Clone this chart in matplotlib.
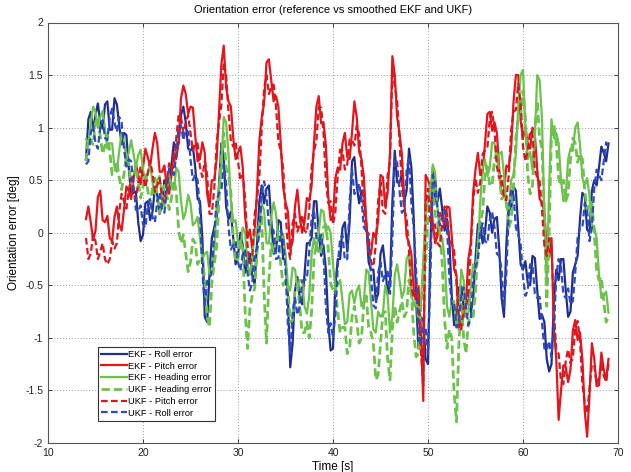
import numpy as np
import matplotlib
matplotlib.use("Agg")
import matplotlib.pyplot as plt

plt.rcParams['font.family'] = ['Liberation Sans', 'DejaVu Sans']

# samples every 0.5 s from 14 s to 69 s, plus the in-between samples (x.25 / x.75 s)
time_s = np.arange(14.0, 69.01, 0.5)
time_mid = time_s[:-1] + 0.25

ekf_roll = [0.70, 1.15, 1.12, 1.05, 1.22, 0.98, 1.28, 1.02, 0.95, 0.62,
            0.38, 0.10, -0.02, 0.30, 0.20, 0.36, 0.27, 0.46, 0.65, 0.80,
            1.12, 1.05, 0.78, 0.62, 0.30, -0.80, -0.38, 0.05, 0.45, 0.72,
            0.13, -0.05, -0.22, -0.12, -0.30, -0.40, -0.10, 0.45, 0.42, 0.13,
            -0.18, 0.10, -0.25, -1.28, -0.55, -0.62, -0.40, -0.10, 0.30, 0.00,
            -0.12, -0.85, -1.10, -0.25, 0.05, -0.18, 0.68, 0.45, 0.40, 0.10,
            -0.35, -0.65, -0.20, -0.33, -0.50, 0.78, 0.48, 0.30, 0.80, 0.13,
            -1.10, -0.83, -1.25, 0.62, 0.30, 0.22, 0.13, -0.60, -0.83, -0.51,
            -0.62, -0.75, -0.25, 0.10, 0.00, 0.19, 0.13, -0.15, -0.80, 0.28,
            0.44, 0.05, -0.35, -0.48, -0.22, -0.55, -0.78, -1.20, -1.25, -0.35,
            -0.25, -0.55, -0.75, -0.30, 0.13, 0.35, 0.00, 0.50, 0.62, 0.76,
            0.85]
ekf_roll_mid = [1.08, 0.98, 1.23, 0.99, 1.25, 0.98, 1.22, 0.84, 0.93, 0.36,
                0.39, -0.08, 0.28, 0.12, 0.42, 0.18, 0.50, 0.42, 0.86, 0.85,
                1.20, 0.80, 0.82, 0.32, -0.05, -0.85, -0.05, 0.12, 0.85, 0.25,
                0.20, -0.30, 0.00, -0.38, -0.20, -0.50, 0.30, 0.28, 0.45, -0.20,
                0.12, -0.25, -0.60, -1.05, -0.42, -0.68, -0.10, -0.05, 0.30, -0.22,
                -0.35, -1.12, -0.50, -0.25, 0.10, 0.10, 0.72, 0.28, 0.40, -0.28,
                -0.35, -0.58, -0.12, -0.58, 0.30, 0.48, 0.55, 0.40, 0.62, -0.65,
                -0.80, -1.20, -0.15, 0.30, 0.42, 0.02, -0.08, -0.88, -0.52, -0.72,
                -0.55, -0.65, 0.08, -0.10, 0.25, 0.00, 0.15, -0.62, -0.10, 0.22,
                0.40, -0.30, -0.27, -0.50, -0.24, -0.82, -0.85, -1.32, -0.65, -0.45,
                -0.25, -0.80, -0.38, -0.22, 0.38, 0.03, 0.40, 0.45, 0.82, 0.68]

ukf_roll = [0.65, 0.95, 0.85, 1.00, 0.90, 1.10, 1.05, 1.10, 0.80, 0.70,
            0.45, 0.20, 0.08, 0.25, 0.15, 0.30, 0.22, 0.40, 0.58, 0.75,
            1.02, 0.98, 0.70, 0.55, 0.20, -0.70, -0.45, 0.00, 0.38, 0.65,
            0.05, -0.12, -0.28, -0.20, -0.38, -0.48, -0.15, 0.38, 0.35, 0.05,
            -0.25, 0.02, -0.35, -1.15, -0.62, -0.70, -0.45, -0.18, 0.22, -0.08,
            -0.20, -0.95, -1.00, -0.32, -0.02, -0.25, 0.60, 0.38, 0.32, 0.02,
            -0.42, -0.72, -0.28, -0.40, -0.58, 0.70, 0.40, 0.22, 0.72, 0.05,
            -1.00, -0.90, -1.15, 0.55, 0.22, 0.15, 0.05, -0.68, -0.90, -0.58,
            -0.70, -0.82, -0.32, 0.02, -0.08, 0.12, 0.05, -0.22, -0.72, 0.20,
            0.36, -0.02, -0.42, -0.55, -0.30, -0.62, -0.85, -1.12, -1.18, -0.42,
            -0.32, -0.62, -0.68, -0.38, 0.05, 0.28, -0.08, 0.42, 0.55, 0.68,
            0.80]
ukf_roll_mid = [0.68, 1.02, 0.80, 1.07, 0.88, 1.18, 0.96, 1.05, 0.63, 0.68,
                0.22, 0.26, 0.05, 0.32, 0.10, 0.38, 0.19, 0.61, 0.55, 1.00,
                0.88, 0.96, 0.50, 0.50, -0.37, -0.46, -0.35, 0.31, 0.40, 0.47,
                -0.16, -0.08, -0.36, -0.17, -0.55, -0.20, 0.00, 0.49, 0.08, 0.02,
                -0.24, -0.05, -0.87, -0.77, -0.78, -0.46, -0.44, 0.14, -0.05, -0.02,
                -0.70, -0.86, -0.78, -0.05, -0.26, 0.30, 0.37, 0.47, 0.05, -0.08,
                -0.69, -0.38, -0.46, -0.37, -0.06, 0.67, 0.19, 0.59, 0.27, -0.36,
                -1.07, -0.90, -0.42, 0.50, 0.07, 0.22, -0.43, -0.67, -0.86, -0.52,
                -0.88, -0.45, -0.27, 0.09, -0.10, 0.20, -0.20, -0.35, -0.38, 0.40,
                0.05, -0.10, -0.60, -0.30, -0.58, -0.61, -1.10, -1.03, -0.92, -0.25,
                -0.59, -0.53, -0.65, -0.05, 0.05, 0.22, 0.05, 0.60, 0.50, 0.86]

ekf_pitch = [0.13, 0.10, 0.02, 0.40, 0.10, -0.05, 0.15, 0.08, 0.22, 0.40,
             0.50, 0.55, 0.62, 0.72, 0.80, 0.85, 0.58, 0.44, 0.55, 0.70,
             1.28, 1.32, 1.20, 0.92, 0.70, 0.76, 0.25, 0.50, 1.15, 1.78,
             1.25, 0.90, 0.76, 0.62, -0.05, -0.15, 0.40, 1.10, 1.62, 1.45,
             1.30, 0.85, 0.29, -0.16, 0.25, 0.15, 0.10, 0.30, 0.85, 1.30,
             1.05, 0.35, 0.15, 0.62, 0.85, 0.72, 0.95, 1.10, 0.70, 0.10,
             -0.20, -0.05, 0.55, 0.25, 0.76, 1.50, 0.95, 0.30, -0.10, -0.55,
             -0.51, -1.60, 0.50, 0.10, -0.03, 0.15, 0.25, -0.03, -0.40, -0.85,
             -0.65, -0.10, 0.60, 0.55, 0.85, 1.15, 1.05, 0.60, 0.40, 0.62,
             1.24, 1.50, 0.90, 0.85, 1.00, 0.60, 0.29, -0.15, -0.05, -1.20,
             -1.50, -1.28, -1.30, -0.83, -0.95, -1.70, -1.55, -1.20, -1.45, -1.30,
             -1.20]
ekf_pitch_mid = [0.25, -0.07, 0.34, 0.12, 0.16, -0.08, 0.25, 0.02, 0.44, 0.32,
                 0.66, 0.46, 0.80, 0.63, 0.95, 0.58, 0.64, 0.37, 0.76, 0.86,
                 1.40, 1.13, 1.19, 0.68, 0.86, 0.37, 0.50, 0.70, 1.60, 1.38,
                 1.20, 0.70, 0.82, 0.15, 0.03, -0.01, 0.88, 1.23, 1.65, 1.25,
                 1.20, 0.44, 0.20, -0.08, 0.41, 0.00, 0.33, 0.45, 1.20, 1.04,
                 0.83, 0.12, 0.52, 0.60, 0.95, 0.70, 1.25, 0.77, 0.53, -0.18,
                 0.00, 0.12, 0.53, 0.38, 1.68, 1.10, 0.75, -0.03, -0.20, -0.66,
                 -0.93, 0.55, 0.43, -0.10, 0.19, 0.07, 0.24, -0.35, -0.92, -0.80,
                 -0.25, 0.38, 0.76, 0.57, 1.13, 0.97, 0.95, 0.37, 0.64, 0.80,
                 1.50, 1.07, 1.00, 0.80, 0.93, 0.32, 0.20, -0.23, -0.90, -1.78,
                 -1.26, -1.42, -0.93, -1.02, -1.20, -1.94, -1.05, -1.46, -1.14, -1.40]

ukf_pitch = [-0.05, -0.20, -0.08, -0.18, -0.25, -0.25, -0.15, 0.20, 0.30, 0.40,
             0.40, 0.48, 0.54, 0.56, 0.57, 0.45, 0.34, 0.48, 0.60, 0.90,
             1.10, 1.05, 0.95, 0.85, 0.62, 0.68, 0.18, 0.42, 1.05, 1.62,
             1.15, 0.82, 0.68, 0.55, -0.12, -0.22, 0.32, 1.00, 1.50, 1.38,
             1.20, 0.78, 0.22, -0.25, 0.18, 0.08, 0.02, 0.22, 0.78, 1.20,
             0.95, 0.28, 0.08, 0.55, 0.78, 0.65, 0.88, 1.02, 0.62, 0.02,
             -0.28, -0.12, 0.48, 0.18, 0.68, 1.40, 0.88, 0.22, -0.18, -0.62,
             -0.58, -1.45, 0.42, 0.02, -0.10, 0.08, 0.18, -0.10, -0.48, -0.92,
             -0.72, -0.18, 0.52, 0.48, 0.78, 1.08, 0.98, 0.52, 0.32, 0.55,
             1.15, 1.42, 0.82, 0.78, 0.92, 0.52, 0.22, -0.22, -0.12, -1.12,
             -1.42, -1.22, -1.24, -0.90, -1.02, -1.62, -1.48, -1.26, -1.38, -1.36,
             -1.25]
ukf_pitch_mid = [-0.25, -0.02, -0.25, -0.10, -0.30, -0.08, -0.10, 0.37, 0.23, 0.52,
                 0.32, 0.63, 0.43, 0.68, 0.39, 0.52, 0.29, 0.66, 0.63, 1.12,
                 0.95, 1.12, 0.78, 0.85, 0.53, 0.55, 0.18, 0.85, 1.22, 1.50,
                 0.87, 0.87, 0.50, 0.33, -0.29, 0.17, 0.54, 1.37, 1.32, 1.41,
                 0.87, 0.62, -0.14, 0.09, 0.01, 0.17, 0.00, 0.62, 0.87, 1.19,
                 0.50, 0.30, 0.20, 0.79, 0.60, 0.89, 0.83, 0.94, 0.20, -0.01,
                 -0.32, 0.30, 0.21, 0.55, 1.55, 1.26, 0.43, 0.14, -0.52, -0.48,
                 -1.13, 0.30, 0.10, 0.08, -0.13, 0.25, -0.08, -0.17, -0.82, -0.70,
                 -0.57, 0.29, 0.38, 0.75, 0.81, 1.15, 0.63, 0.54, 0.31, 0.97,
                 1.17, 1.24, 0.68, 0.97, 0.60, 0.49, -0.12, -0.05, -0.74, -1.15,
                 -1.44, -1.11, -1.19, -0.84, -1.44, -1.72, -1.25, -1.44, -1.25, -1.42]

ekf_heading = [0.89, 1.05, 1.15, 1.10, 0.98, 0.85, 0.62, 0.78, 0.88, 0.76,
               0.75, 0.74, 0.60, 0.58, 0.48, 0.50, 0.33, 0.40, 0.44, 0.62,
               0.30, 0.20, 0.28, 0.10, -0.05, -0.20, -0.40, -0.15, 0.40, 1.10,
               0.75, 0.10, -0.10, 0.05, -0.30, -0.25, 0.05, 0.28, -0.10, 0.15,
               0.18, -0.05, -0.20, -0.55, -0.35, -0.45, -0.70, -0.60, -0.05, 0.00,
               0.20, 0.06, -0.30, -0.50, -0.65, -0.85, -0.55, -0.55, -0.70, -0.35,
               -0.65, -0.95, -0.80, -0.50, -0.95, -0.40, -0.45, -0.55, -0.20, -0.70,
               -0.85, -0.25, 0.35, 0.65, 0.25, -0.05, -0.70, -0.65, -0.90, -0.35,
               -0.80, -0.50, -0.35, 0.29, 0.70, 0.62, 0.85, 0.75, 0.55, 0.20,
               0.55, 1.20, 1.55, 0.70, 0.60, 1.50, 1.08, -0.50, 1.08, 0.95,
               0.50, 0.35, 0.80, 1.00, 0.83, 0.45, 0.35, 0.05, -0.40, -0.60,
               -0.76]
ekf_heading_mid = [0.85, 1.20, 1.00, 1.16, 0.80, 0.85, 0.58, 0.95, 0.70, 0.88,
                   0.62, 0.79, 0.47, 0.65, 0.37, 0.54, 0.25, 0.54, 0.41, 0.58,
                   0.13, 0.36, 0.07, 0.15, -0.25, -0.18, -0.40, 0.25, 0.63, 1.05,
                   0.30, 0.12, -0.15, 0.00, -0.40, 0.02, 0.05, 0.21, -0.10, 0.29,
                   -0.06, -0.01, -0.50, -0.33, -0.52, -0.45, -0.77, -0.20, -0.15, 0.22,
                   0.01, 0.00, -0.52, -0.45, -0.87, -0.58, -0.67, -0.50, -0.65, -0.38,
                   -0.92, -0.75, -0.77, -0.60, -0.80, -0.30, -0.62, -0.25, -0.57, -0.65,
                   -0.67, 0.17, 0.38, 0.57, -0.02, -0.25, -0.80, -0.65, -0.75, -0.45,
                   -0.77, -0.30, -0.15, 0.62, 0.54, 0.86, 0.68, 0.77, 0.25, 0.50,
                   0.75, 1.50, 1.00, 0.77, 0.93, 1.45, 0.15, 0.45, 0.90, 0.85,
                   0.30, 0.70, 0.78, 1.05, 0.52, 0.52, 0.08, -0.05, -0.62, -0.56]

ukf_heading = [0.68, 0.88, 1.05, 0.92, 0.83, 0.78, 0.57, 0.52, 0.56, 0.65,
               0.52, 0.48, 0.44, 0.40, 0.42, 0.36, 0.28, 0.36, 0.33, 0.40,
               -0.10, -0.20, -0.28, -0.10, -0.25, -0.45, -0.90, -0.30, 0.30, 0.95,
               0.55, -0.05, -0.25, -0.15, -1.10, -0.60, -0.20, 0.15, -1.05, -0.10,
               -0.05, -0.30, -0.45, -0.85, -0.55, -0.70, -0.95, -1.00, -0.25, -0.20,
               0.05, -0.15, -0.55, -0.75, -0.90, -1.15, -0.80, -0.85, -1.00, -0.60,
               -0.95, -1.40, -1.05, -0.75, -1.40, -0.70, -0.75, -0.80, -0.45, -0.95,
               -1.15, -0.50, 0.15, 0.50, 0.10, -0.30, -1.10, -1.00, -1.80, -0.60,
               -1.15, -0.80, -0.55, 0.10, 0.55, 0.45, 0.70, 0.55, 0.35, 0.05,
               0.45, 1.10, 1.35, 0.55, 0.45, 1.25, 0.80, -0.70, 0.95, 0.85,
               0.45, 0.30, 0.70, 0.85, 0.75, 0.40, 0.30, 0.00, -0.45, -0.65,
               -0.80]
ukf_heading_mid = [0.91, 0.84, 1.10, 0.75, 0.93, 0.55, 0.68, 0.41, 0.73, 0.46,
                   0.63, 0.33, 0.55, 0.28, 0.52, 0.19, 0.45, 0.22, 0.50, 0.02,
                   -0.02, -0.37, -0.06, -0.30, -0.22, -0.80, -0.47, -0.13, 0.75, 0.62,
                   0.38, -0.28, -0.07, -0.75, -0.72, -0.53, 0.10, -0.58, -0.45, -0.20,
                   -0.05, -0.50, -0.52, -0.83, -0.50, -0.95, -0.85, -0.75, -0.10, -0.20,
                   0.08, -0.48, -0.52, -0.95, -0.90, -1.10, -0.70, -1.05, -0.67, -0.90,
                   -1.05, -1.35, -0.77, -1.20, -0.92, -0.85, -0.65, -0.75, -0.57, -1.18,
                   -0.70, -0.30, 0.45, 0.17, 0.03, -0.83, -0.92, -1.53, -1.07, -1.00,
                   -0.85, -0.80, -0.10, 0.20, 0.63, 0.45, 0.75, 0.32, 0.33, 0.12,
                   0.90, 1.10, 1.08, 0.37, 0.98, 0.90, 0.18, 0.00, 1.03, 0.52,
                   0.50, 0.37, 0.90, 0.67, 0.70, 0.22, 0.28, -0.35, -0.42, -0.85]


def dense(main, mid):
    t = np.empty(len(time_s) + len(time_mid))
    v = np.empty_like(t)
    t[0::2], t[1::2] = time_s, time_mid
    v[0::2], v[1::2] = main, mid
    return t, v


red = '#e8141c'
green = '#6cc24a'

fig = plt.figure(figsize=(6.31, 4.72), dpi=100)
ax = fig.add_axes([48/631, 1 - 443/472, 570/631, 420.5/472])

lw = 1.6
dash = (0, (3, 1.5))
ax.plot(*dense(ekf_roll, ekf_roll_mid), color='#1f2f8f', lw=lw, label='EKF - Roll error')
ax.plot(*dense(ekf_pitch, ekf_pitch_mid), color=red, lw=lw, label='EKF - Pitch error')
ax.plot(*dense(ekf_heading, ekf_heading_mid), color=green, lw=lw, label='EKF - Heading error')
ax.plot(*dense(ukf_heading, ukf_heading_mid), color=green, lw=lw + 0.4, ls=dash, label='UKF - Heading error')
ax.plot(*dense(ukf_pitch, ukf_pitch_mid), color='#d81820', lw=lw, ls=dash, label='UKF - Pitch error')
ax.plot(*dense(ukf_roll, ukf_roll_mid), color='#2c4bbf', lw=lw, ls=dash, label='UKF - Roll error')

ax.set_xlim(10, 70)
ax.set_ylim(-2, 2)
ax.set_xticks(np.arange(10, 71, 10))
ax.set_yticks(np.arange(-2, 2.01, 0.5))
ax.set_yticklabels(['-2', '-1.5', '-1', '-0.5', '0', '0.5', '1', '1.5', '2'])
ax.grid(True, ls=(0, (1, 2)), color='#9a9a9a', lw=0.7)
ax.tick_params(direction='in', top=True, right=True, labelsize=7.5, length=3, width=0.6, colors='#222222')
for s in ax.spines.values():
    s.set_color('#555555')
    s.set_linewidth(0.8)

ax.set_title('Orientation error (reference vs smoothed EKF and UKF)', fontsize=8, pad=7)
ax.set_xlabel('Time [s]', fontsize=8.5, labelpad=2)
ax.set_ylabel('Orientation error [deg]', fontsize=8.5, labelpad=4)

leg = ax.legend(loc='upper left', bbox_to_anchor=(50/570, 96/420.5), borderaxespad=0,
                fontsize=6.7, handlelength=2.8, handletextpad=0.15, labelspacing=0.3,
                borderpad=0.3, fancybox=False, framealpha=1, edgecolor='#333333')
leg.get_frame().set_linewidth(0.8)

fig.savefig('out.png', dpi=100)
